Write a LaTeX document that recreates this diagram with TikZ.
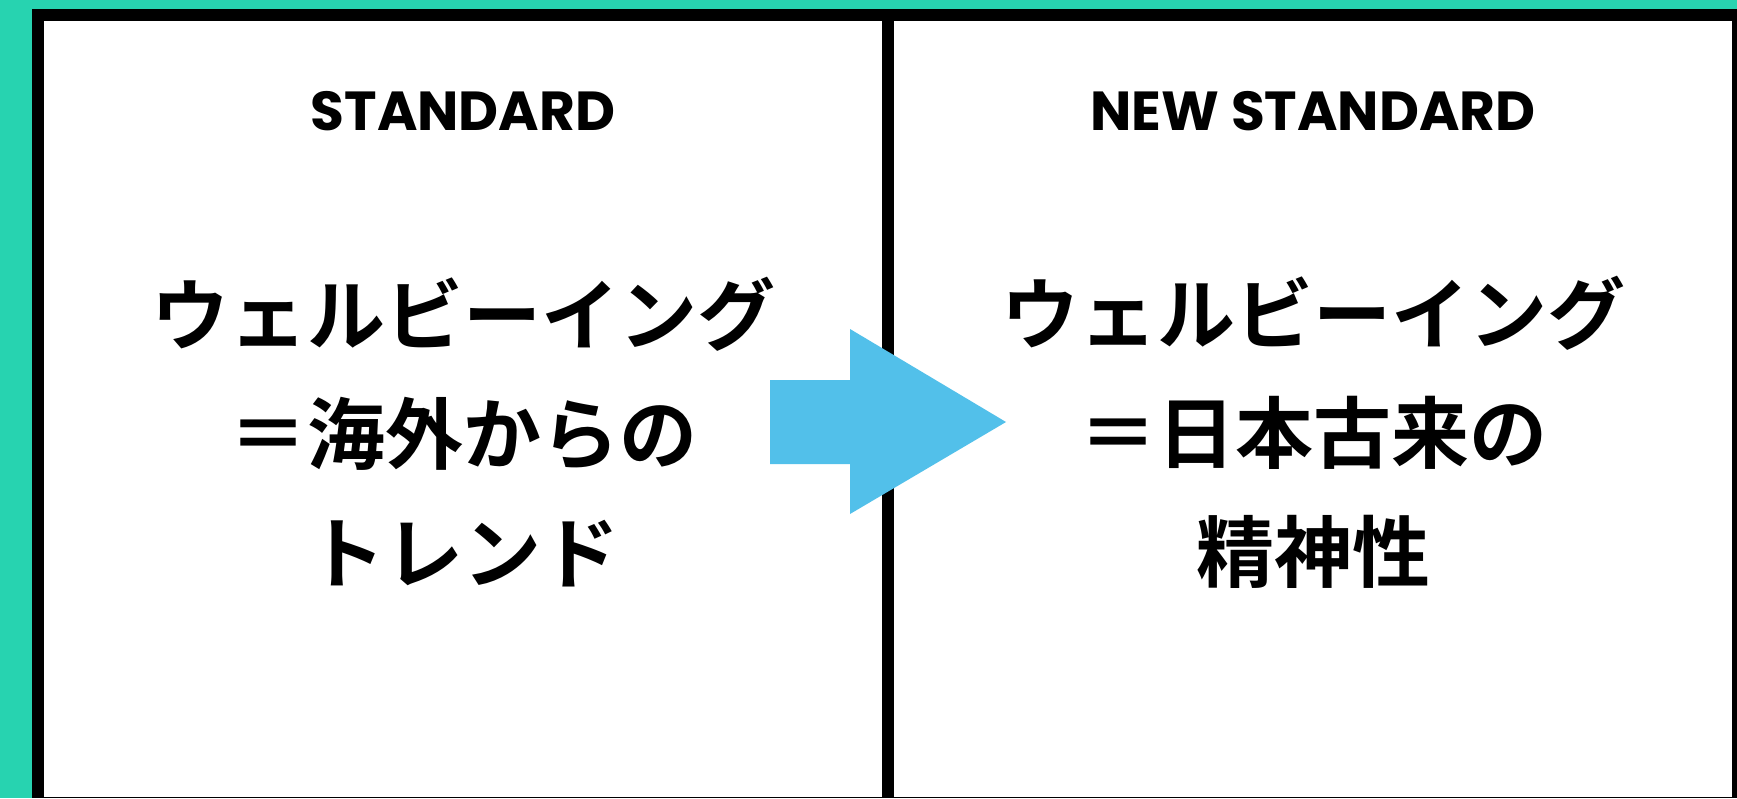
\documentclass[tikz,border=0pt]{standalone}
\usepackage{fontspec}
\newfontfamily\jpfont{Noto Sans CJK JP}[BoldFont={* Bold}]
\newfontfamily\headfont{Poppins}
\definecolor{teal}{HTML}{27D3B0}
\definecolor{arrowblue}{HTML}{52C0EA}
\tikzset{
  heading/.style={font=\headfont\bfseries\fontsize{55}{62}\selectfont, anchor=center, inner sep=0pt},
  bodytext/.style={font=\jpfont\bfseries\fontsize{78}{119}\selectfont, align=center, anchor=center, inner sep=0pt},
  panel/.style={fill=white, draw=none}
}
\begin{document}
\begin{tikzpicture}[x=1pt, y=-1pt]
\useasboundingbox (0,0) rectangle (1737,798);
\fill[teal] (0,0) rectangle (1737,798);
\fill[black] (32,9) rectangle (1737,798);
\fill[panel] (44,21) rectangle (882,797);
\fill[panel] (894,21) rectangle (1732,797);
\node[heading] (h1) at (463,111) {STANDARD};
\node[heading] (h2) at (1313,111) {NEW STANDARD};
\node[bodytext] (b1) at (463,432) {ウェルビーイング\\＝海外からの\\トレンド};
\node[bodytext] (b2) at (1313,432) {ウェルビーイング\\＝日本古来の\\精神性};
\fill[arrowblue] (770,380) -- (850,380) -- (850,329) -- (1006,422) -- (850,514) -- (850,464) -- (770,464) -- cycle;
\end{tikzpicture}
\end{document}
